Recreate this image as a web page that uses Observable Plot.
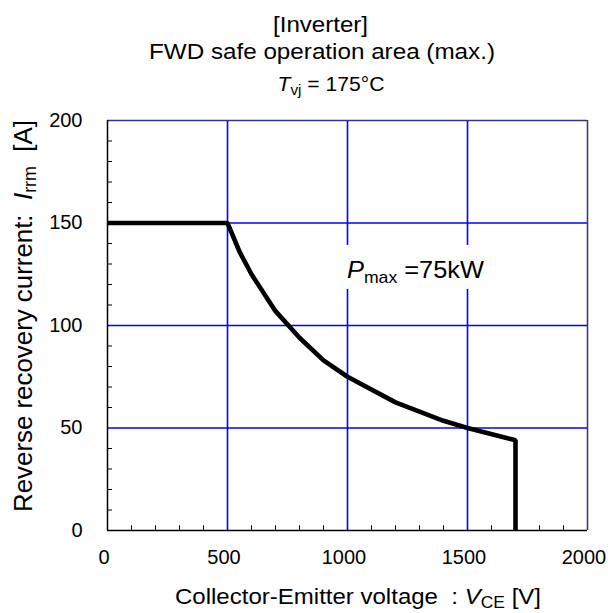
<!DOCTYPE html>
<html>
<head>
<meta charset="utf-8">
<script src="https://cdn.jsdelivr.net/npm/d3@7"></script>
<script src="https://cdn.jsdelivr.net/npm/@observablehq/plot@0.6"></script>
<style>
  html, body { margin: 0; padding: 0; background: #fff; }
  #chart { width: 608px; height: 613px; }
  svg text { font-family: "Liberation Sans", Arial, Helvetica, sans-serif; }
</style>
</head>
<body>
<div id="chart"></div>
<script>
// ---- data ----
const voltage = [0, 500, 550, 600, 700, 800, 900, 1000, 1200, 1400, 1500, 1700, 1700];
const current = [150, 150, 136, 125, 107, 94, 83, 75, 62.5, 53.5, 50, 44, 0];

const xTicks = [0, 500, 1000, 1500, 2000];
const yTicks = [0, 50, 100, 150, 200];
const xGrid = [500, 1000, 1500];
const yGrid = [50, 100, 150];
const xMinorTicks = [100, 200, 300, 400, 600, 700, 800, 900, 1100, 1200, 1300, 1400, 1600, 1700, 1800, 1900];
const yMinorTicks = [10, 20, 30, 40, 60, 70, 80, 90, 110, 120, 130, 140, 160, 170, 180, 190];

const titleLines = ["[Inverter]", "FWD safe operation area (max.)"];
const tempLabel = { sym: "T", sub: "vj", rest: "\u00a0= 175°C" };
const xLabel = { text: "Collector-Emitter voltage\u00a0\u00a0:\u00a0", sym: "V", sub: "CE", rest: "\u00a0[V]" };
const yLabel = { text: "Reverse recovery current:\u00a0\u00a0", sym: "I", sub: "rrm", rest: "\u00a0\u00a0[A]" };
const pmax = { sym: "P", sub: "max", rest: "\u00a0=75kW", v: 1000, i: 123 };

const data = voltage.map((v, k) => ({ v, i: current[k] }));

const FONT = "'Liberation Sans', Arial, Helvetica, sans-serif";

const plot = Plot.plot({
  width: 608,
  height: 613,
  marginTop: 120,
  marginLeft: 107,
  marginRight: 21,
  marginBottom: 83,
  x: { domain: [0, 2000] },
  y: { domain: [0, 200] },
  style: { fontFamily: FONT, fontSize: "20px", background: "#fff", color: "#000", overflow: "visible" },
  marks: [
    Plot.ruleX(xGrid, { stroke: "#0000ff", strokeWidth: 1.6 }),
    Plot.ruleY(yGrid, { stroke: "#0000ff", strokeWidth: 1.6 }),
    Plot.ruleX([2000], { stroke: "#33337f", strokeWidth: 1.5 }),
    Plot.ruleY([200], { stroke: "#33337f", strokeWidth: 1.5 }),
    Plot.ruleX(xMinorTicks, { y1: 0, y2: 2.3, stroke: "#000", strokeWidth: 1 }),
    Plot.ruleY(yMinorTicks, { x1: 0, x2: 21, stroke: "#000", strokeWidth: 1 }),
    Plot.line(data, { x: "v", y: "i", stroke: "#000", strokeWidth: 4.6, strokeLinejoin: "miter", strokeLinecap: "butt" }),
    Plot.ruleX([0], { stroke: "#000", strokeWidth: 1.5 }),
    Plot.ruleY([0], { stroke: "#000", strokeWidth: 1.5 }),
    Plot.axisX(xTicks, { tickSize: 0, tickPadding: 19, dx: -3.5, fontSize: 20, label: null, tickFormat: d => String(d) }),
    Plot.axisY(yTicks, { tickSize: 0, tickPadding: 25, fontSize: 20, label: null, tickFormat: d => String(d) })
  ]
});

document.getElementById("chart").appendChild(plot);

const svg = d3.select(plot.tagName.toLowerCase() === "svg" ? plot : plot.querySelector("svg"));
const sx = plot.scale("x"), sy = plot.scale("y");

// Title lines
svg.append("text")
  .attr("x", 320.5).attr("y", 31.7)
  .attr("text-anchor", "middle").attr("font-size", 21.5)
  .attr("textLength", 95).attr("lengthAdjust", "spacingAndGlyphs")
  .attr("fill", "#000").style("font-family", FONT)
  .text(titleLines[0]);
svg.append("text")
  .attr("x", 322).attr("y", 59)
  .attr("text-anchor", "middle").attr("font-size", 21.5)
  .attr("textLength", 346).attr("lengthAdjust", "spacingAndGlyphs")
  .attr("fill", "#000").style("font-family", FONT)
  .text(titleLines[1]);

function richText(g, parts, size, subSize, shift) {
  g.append("tspan").attr("font-style", "italic").text(parts.sym);
  g.append("tspan").attr("font-size", subSize).attr("dy", shift).text(parts.sub);
  g.append("tspan").attr("font-size", size).attr("dy", -shift).text(parts.rest);
}

const t3 = svg.append("text")
  .attr("x", 331).attr("y", 90.7)
  .attr("text-anchor", "middle").attr("font-size", 19.5)
  .attr("textLength", 107).attr("lengthAdjust", "spacingAndGlyphs")
  .attr("fill", "#000").style("font-family", FONT);
richText(t3, tempLabel, 19.5, 14, 4);

// X axis label
const xl = svg.append("text")
  .attr("x", 358).attr("y", 604)
  .attr("text-anchor", "middle").attr("font-size", 22)
  .attr("textLength", 366).attr("lengthAdjust", "spacingAndGlyphs")
  .attr("fill", "#000").style("font-family", FONT);
xl.append("tspan").text(xLabel.text);
richText(xl, xLabel, 22, 16, 4);

// Y axis label
const yl = svg.append("text")
  .attr("transform", "translate(31.7,316) rotate(-90)")
  .attr("text-anchor", "middle").attr("font-size", 26)
  .attr("textLength", 392).attr("lengthAdjust", "spacingAndGlyphs")
  .attr("fill", "#000").style("font-family", FONT);
yl.append("tspan").text(yLabel.text);
richText(yl, yLabel, 26, 18, 4);

// Pmax annotation with white box behind it
const px = sx.apply(pmax.v), py = sy.apply(pmax.i);
const bg = svg.append("rect").attr("fill", "#fff");
const pt = svg.append("text")
  .attr("x", px).attr("y", py)
  .attr("text-anchor", "start")
  .attr("font-size", 24.5)
  .attr("textLength", 137).attr("lengthAdjust", "spacingAndGlyphs")
  .attr("fill", "#000").style("font-family", FONT);
richText(pt, pmax, 24.5, 17, 5);
const bb = pt.node().getBBox();
bg.attr("x", bb.x - 3).attr("y", py - 33).attr("width", bb.width + 6).attr("height", 44);
</script>
</body>
</html>
